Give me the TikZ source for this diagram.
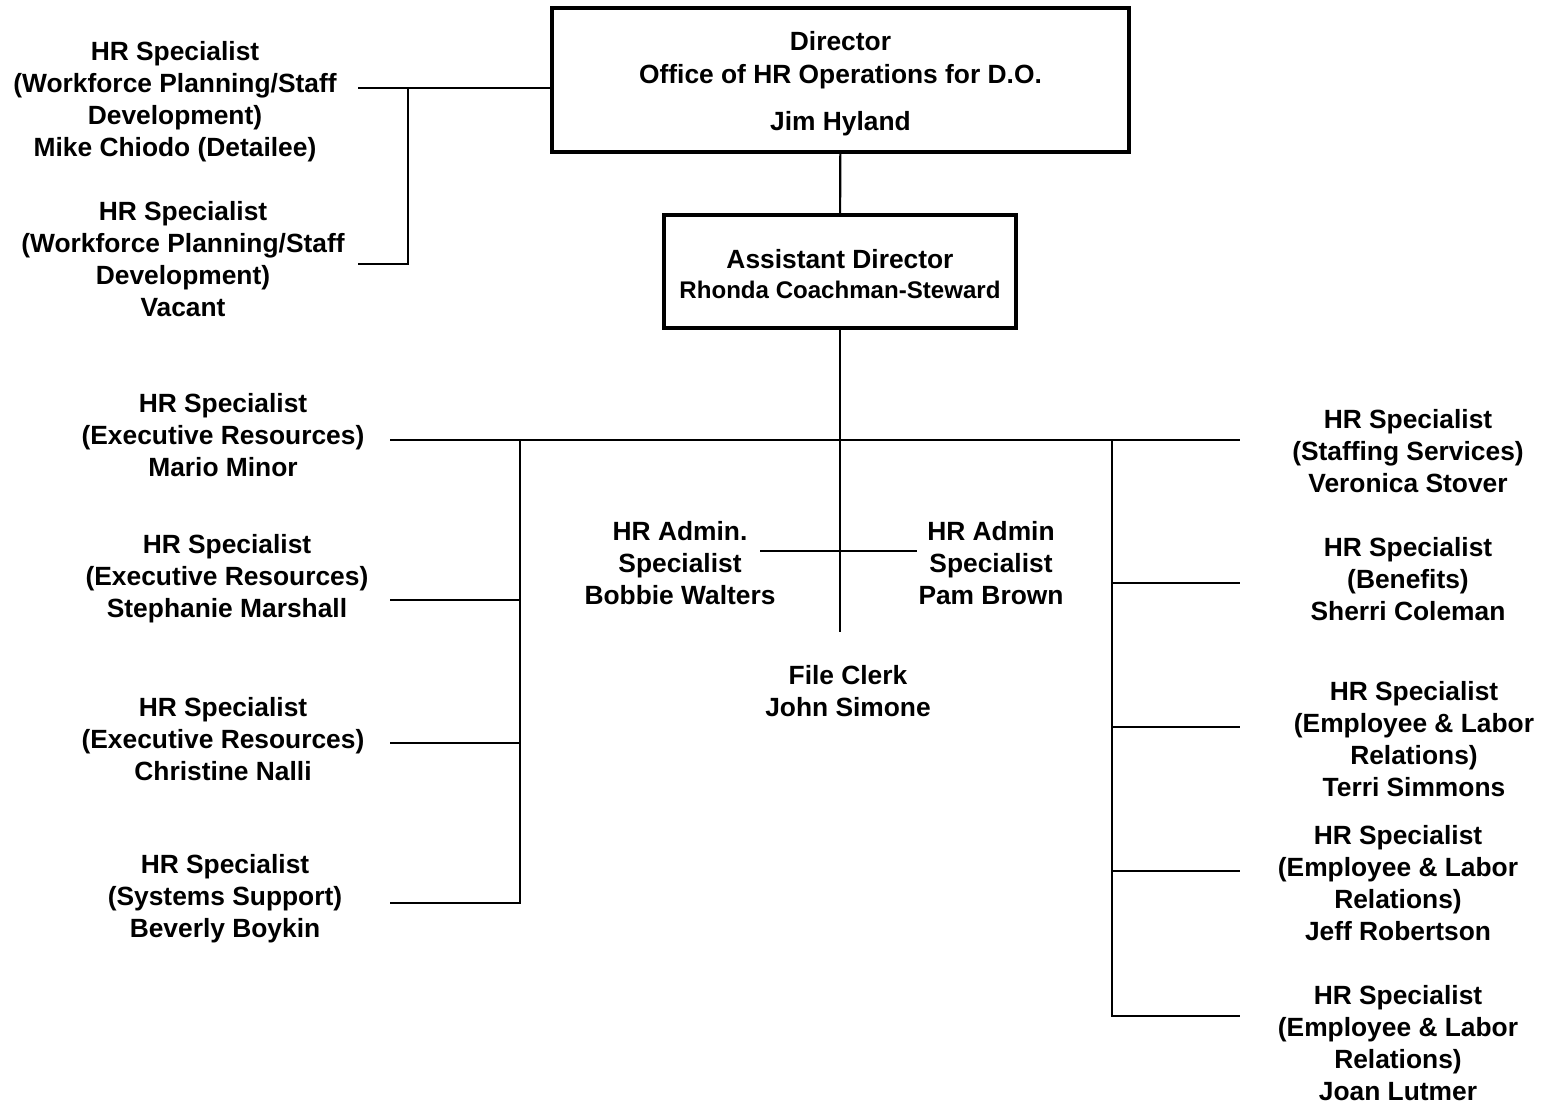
\documentclass[tikz,border=0pt]{standalone}
\usepackage{fontspec}
\setmainfont{Liberation Sans}
\usetikzlibrary{positioning}

\tikzset{
  post/.style={align=center, inner sep=0pt, font=\fontsize{7.5}{9.1}\selectfont\bfseries},
  wire/.style={line width=0.6pt},
}

\begin{document}
\begin{tikzpicture}

\useasboundingbox (0,0) rectangle (15.43,-11.01);

% boxes at the top
\node[draw, line width=1.1pt, minimum width=5.77cm, minimum height=1.44cm, inner sep=0pt,
  align=center, font=\fontsize{7.5}{9.4}\selectfont\bfseries] (dir) at (8.405,-0.80)
  {\rule{0pt}{7.4pt}Director\\Office of HR Operations for D.O.\\[4pt]Jim Hyland};
\node[draw, line width=0.9pt, minimum width=3.52cm, minimum height=1.13cm, inner sep=0pt,
  align=center, font=\fontsize{7.5}{8.5}\selectfont\bfseries] (asst) at (8.40,-2.715)
  {\rule{0pt}{6.9pt}Assistant Director\\
   \fontsize{6.85}{8.5}\selectfont\bfseries Rhonda Coachman-Steward};

% staff
\node[post] (wp1) at (1.75,-1.02) {HR Specialist\\(Workforce Planning/Staff\\Development)\\Mike Chiodo (Detailee)};
\node[post] (wp2) at (1.83,-2.59) {HR Specialist\\(Workforce Planning/Staff\\Development)\\Vacant};

\node[post] (er1) at (2.23,-4.35) {HR Specialist\\(Executive Resources)\\Mario Minor};
\node[post] (er2) at (2.27,-5.79) {HR Specialist\\(Executive Resources)\\Stephanie Marshall};
\node[post] (er3) at (2.23,-7.39) {HR Specialist\\(Executive Resources)\\Christine Nalli};
\node[post] (sys) at (2.25,-8.99) {HR Specialist\\(Systems Support)\\Beverly Boykin};

\node[post] (adm1) at (6.80,-5.63) {HR Admin.\\Specialist\\Bobbie Walters};
\node[post] (adm2) at (9.91,-5.63) {HR Admin\\Specialist\\Pam Brown};
\node[post] (clerk) at (8.48,-6.91) {File Clerk\\John Simone};

\node[post] (stf) at (14.08,-4.51) {HR Specialist\\(Staffing Services)\\Veronica Stover};
\node[post] (ben) at (14.08,-5.79) {HR Specialist\\(Benefits)\\Sherri Coleman};
\node[post] (elr1) at (14.14,-7.39) {HR Specialist\\(Employee \& Labor\\Relations)\\Terri Simmons};
\node[post] (elr2) at (13.98,-8.83) {HR Specialist\\(Employee \& Labor\\Relations)\\Jeff Robertson};
\node[post] (elr3) at (13.98,-10.43) {HR Specialist\\(Employee \& Labor\\Relations)\\Joan Lutmer};

% junctions and line ends
\coordinate (tl1) at (3.58,-0.88);
\coordinate (tl2) at (3.58,-2.64);
\coordinate (tlj) at (4.08,-0.88);
\coordinate (tlb) at (4.08,-2.64);
\coordinate (bus) at (8.40,-4.40);
\coordinate (busl) at (3.90,-4.40);
\coordinate (busr) at (12.40,-4.40);
\coordinate (lj) at (5.20,-4.40);
\coordinate (rj) at (11.12,-4.40);
\coordinate (stemend) at (8.40,-6.32);
\coordinate (adml) at (7.60,-5.51);
\coordinate (admr) at (9.17,-5.51);

\draw[wire] (dir) -- (asst);
\draw[wire] (tl1) -- (tl1 -| dir.west);
\draw[wire] (tlj) -- (tlb) -- (tl2);

\draw[wire] (asst) -- (stemend);
\draw[wire] (busl) -- (busr);
\draw[wire] (adml) -- (admr);

% left side
\draw[wire] (lj) -- (5.20,-9.03) -- (3.90,-9.03);
\draw[wire] (5.20,-6.00) -- (3.90,-6.00);
\draw[wire] (5.20,-7.43) -- (3.90,-7.43);

% right side
\draw[wire] (rj) -- (11.12,-10.16) -- (12.40,-10.16);
\draw[wire] (11.12,-5.83) -- (12.40,-5.83);
\draw[wire] (11.12,-7.27) -- (12.40,-7.27);
\draw[wire] (11.12,-8.71) -- (12.40,-8.71);

\end{tikzpicture}
\end{document}
